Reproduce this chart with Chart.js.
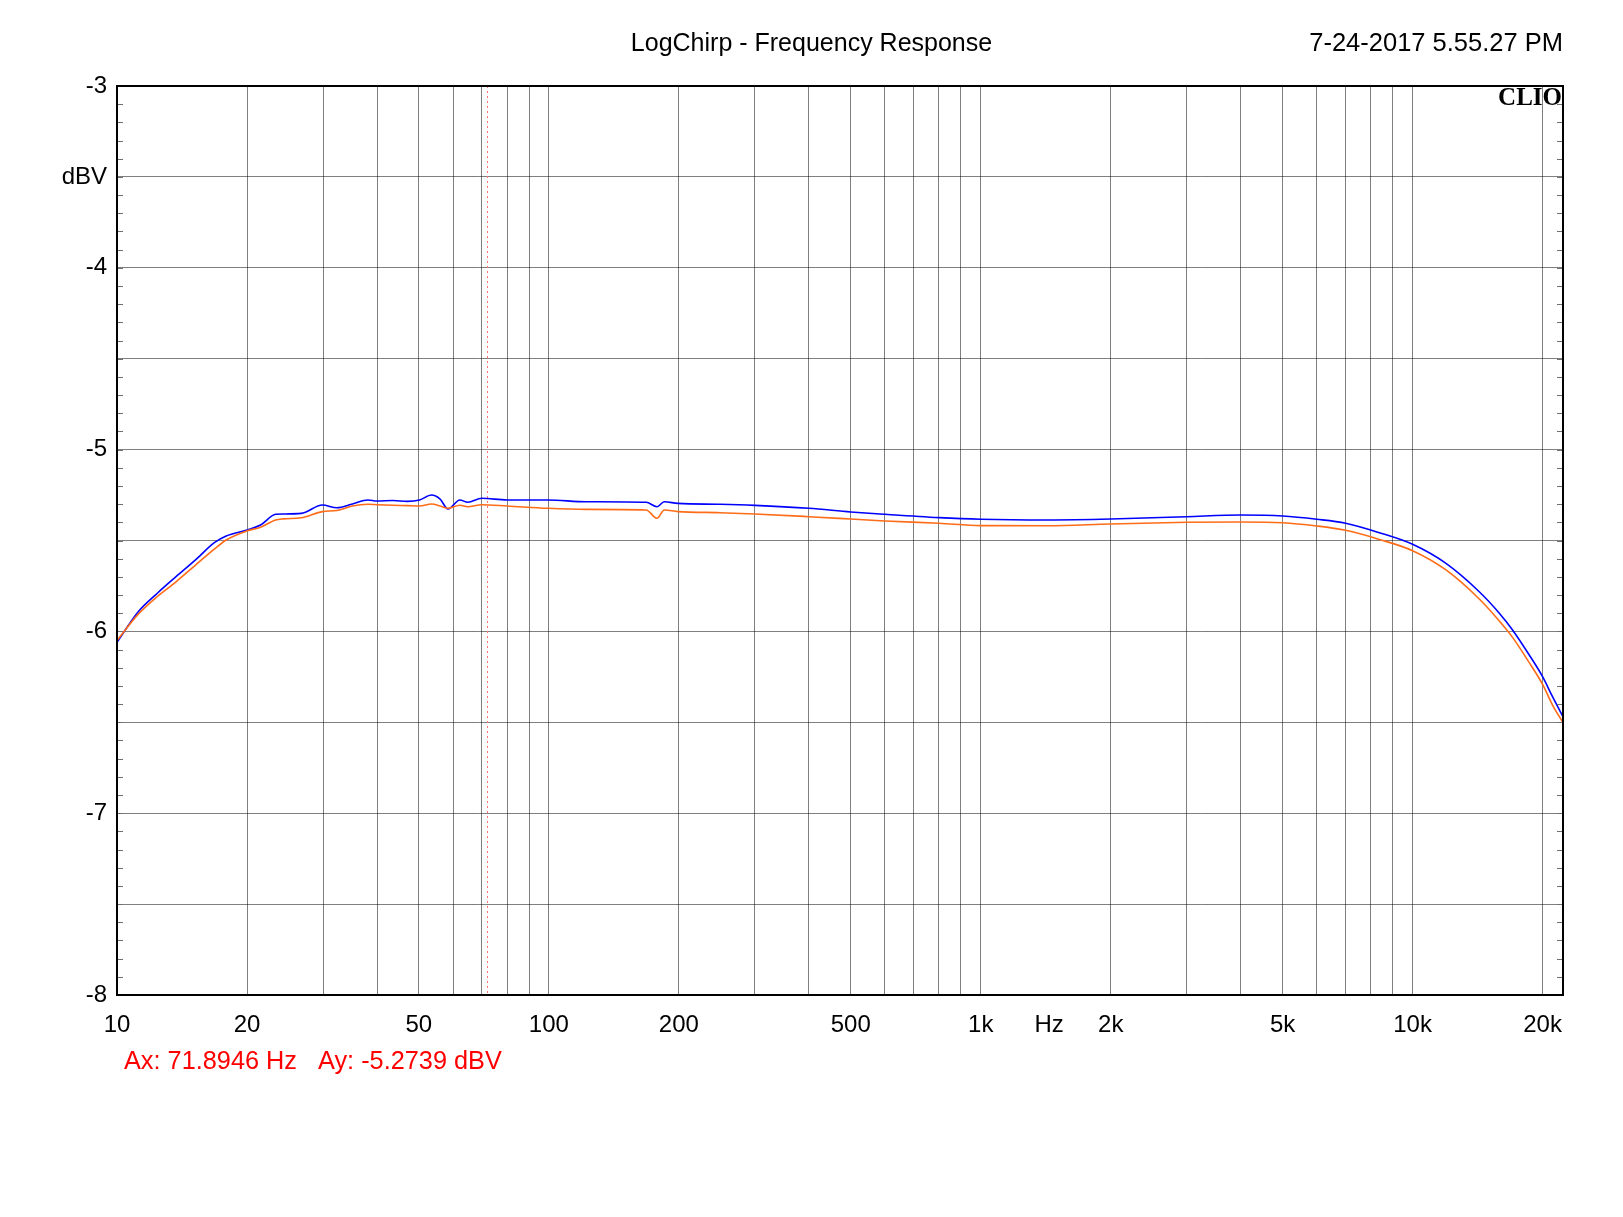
<!DOCTYPE html>
<html>
<head>
<meta charset="utf-8">
<title>LogChirp - Frequency Response</title>
<script src="https://cdn.jsdelivr.net/npm/chart.js@4.4.1/dist/chart.umd.min.js"></script>
<style>
  body { margin: 0; background: #ffffff; }
  #wrap { width: 1623px; height: 1217px; }
</style>
</head>
<body>
<div id="wrap"><canvas id="myChart" width="1623" height="1217"></canvas></div>
<script>
'use strict';

// frequencies in Hz
let freqs = [10, 11.2, 12.4, 13.7, 15.2, 16.8, 17.9, 20, 21.5, 23.3, 24.3, 26.7, 29.9, 32.3, 35.1, 38.1,
  40, 43.5, 47, 50.2, 53.5, 56, 58.4, 62.2, 64.9, 69.9, 80, 99.5, 122, 168, 178, 185, 199, 249,
  300, 400, 500, 600, 800, 1000, 1430, 2000, 3000, 4000, 5000, 6000, 7000, 8375,
  10000, 11950, 14270, 15880, 17040, 18630, 20000, 21090, 22300];

let blueDbv = [-6.06, -5.892, -5.79, -5.699, -5.607, -5.512, -5.475, -5.442, -5.415, -5.356, -5.354, -5.351, -5.305, -5.32, -5.299, -5.277,
  -5.283, -5.28, -5.285, -5.277, -5.25, -5.272, -5.327, -5.277, -5.29, -5.268, -5.277, -5.277, -5.287, -5.29, -5.314, -5.287, -5.296, -5.301,
  -5.307, -5.323, -5.343, -5.356, -5.374, -5.383, -5.387, -5.382, -5.369, -5.36, -5.365, -5.383, -5.405, -5.457,
  -5.521, -5.626, -5.782, -5.90, -5.992, -6.13, -6.249, -6.359, -6.469];

let orangeDbv = [-6.05, -5.905, -5.808, -5.727, -5.635, -5.548, -5.497, -5.447, -5.427, -5.387, -5.381, -5.375, -5.341, -5.335, -5.31, -5.301,
  -5.303, -5.306, -5.308, -5.31, -5.299, -5.31, -5.323, -5.306, -5.314, -5.303, -5.31, -5.323, -5.329, -5.332, -5.378, -5.332, -5.341, -5.347,
  -5.354, -5.369, -5.382, -5.393, -5.405, -5.418, -5.419, -5.409, -5.40, -5.398, -5.402, -5.42, -5.444, -5.494,
  -5.556, -5.662, -5.822, -5.943, -6.033, -6.172, -6.291, -6.405, -6.502];

// grid lines and labels
let xGrid = [10, 20, 30, 40, 50, 60, 70, 80, 90, 100, 200, 300, 400, 500, 600, 700, 800, 900,
  1000, 1440, 2000, 3000, 4000, 5000, 6000, 7000, 8000, 9000, 10000, 20000];
let xLabels = { 10: '10', 20: '20', 50: '50', 100: '100', 200: '200', 500: '500', 1000: '1k',
  1440: 'Hz', 2000: '2k', 5000: '5k', 10000: '10k', 20000: '20k' };
let yGrid = [-8, -7.5, -7, -6.5, -6, -5.5, -5, -4.5, -4, -3.5, -3];
let yLabels = { '-8': '-8', '-7': '-7', '-6': '-6', '-5': '-5', '-4': '-4', '-3': '-3', '-3.5': 'dBV' };

let cursorHz = 71.8946;
let cursorDbv = -5.2739;

let titleText = 'LogChirp - Frequency Response';
let dateText = '7-24-2017 5.55.27 PM';

const FONT = '"Liberation Sans", Arial, sans-serif';

function makePoints(ys) {
  let pts = [];
  for (let i = 0; i < freqs.length; i++) {
    pts.push({ x: freqs[i], y: ys[i] });
  }
  return pts;
}

// frame, minor ticks, cursor and the extra texts
let decorations = {
  id: 'decorations',
  beforeDatasetsDraw(chart) {
    let ctx = chart.ctx;
    let a = chart.chartArea;
    let xs = chart.scales.x;
    let cx = xs.getPixelForValue(cursorHz);
    ctx.save();
    ctx.strokeStyle = '#ff7070';
    ctx.lineWidth = 1;
    ctx.setLineDash([2, 3]);
    ctx.beginPath();
    ctx.moveTo(Math.round(cx) + 0.5, a.top);
    ctx.lineTo(Math.round(cx) + 0.5, a.bottom);
    ctx.stroke();
    ctx.restore();
  },
  afterDraw(chart) {
    let ctx = chart.ctx;
    let a = chart.chartArea;
    let ys = chart.scales.y;
    ctx.save();

    // minor ticks every 0.1 dB, inside on both sides
    ctx.strokeStyle = '#707070';
    ctx.lineWidth = 1;
    for (let i = 0; i <= 50; i++) {
      let y = Math.round(ys.getPixelForValue(-8 + i * 0.1)) + 0.5;
      ctx.beginPath();
      ctx.moveTo(a.left, y);
      ctx.lineTo(a.left + 6, y);
      ctx.moveTo(a.right - 6, y);
      ctx.lineTo(a.right, y);
      ctx.stroke();
    }

    // frame
    ctx.strokeStyle = '#000000';
    ctx.lineWidth = 2;
    ctx.strokeRect(a.left, a.top, a.right - a.left, a.bottom - a.top);

    // title and date
    ctx.fillStyle = '#000000';
    ctx.font = '25px ' + FONT;
    ctx.textBaseline = 'middle';
    ctx.textAlign = 'center';
    ctx.fillText(titleText, chart.width / 2, 44);
    ctx.font = '25.5px ' + FONT;
    ctx.textAlign = 'right';
    ctx.fillText(dateText, a.right, 44);

    // CLIO mark
    ctx.font = 'bold 25px "Liberation Serif", "Times New Roman", serif';
    ctx.textBaseline = 'top';
    ctx.fillText('CLIO', a.right - 1, a.top);

    // cursor readout
    ctx.fillStyle = '#ff0000';
    ctx.font = '25.3px ' + FONT;
    ctx.textAlign = 'left';
    ctx.textBaseline = 'middle';
    ctx.fillText('Ax: ' + cursorHz.toFixed(4) + ' Hz   Ay: ' + cursorDbv.toFixed(4) + ' dBV', 124, 1062);
    ctx.restore();
  }
};

let ctx = document.getElementById('myChart').getContext('2d');
let myChart = new Chart(ctx, {
  type: 'line',
  data: {
    datasets: [{
      label: 'Ch B',
      data: makePoints(orangeDbv),
      borderColor: '#ff6c18',
      borderWidth: 1.6,
      pointRadius: 0,
      cubicInterpolationMode: 'monotone',
      fill: false
    }, {
      label: 'Ch A',
      data: makePoints(blueDbv),
      borderColor: '#0000ff',
      borderWidth: 1.6,
      pointRadius: 0,
      cubicInterpolationMode: 'monotone',
      fill: false
    }]
  },
  options: {
    responsive: false,
    animation: false,
    layout: { padding: { left: 0, top: 86, right: 60, bottom: 162 } },
    plugins: {
      legend: { display: false },
      title: { display: false },
      tooltip: { enabled: false }
    },
    scales: {
      x: {
        type: 'logarithmic',
        min: 10,
        max: 22300,
        afterBuildTicks: function (scale) {
          scale.ticks = xGrid.map(function (v) { return { value: v }; });
        },
        afterFit: function (scale) { scale.height = 60; },
        border: { display: false },
        grid: {
          drawTicks: false,
          lineWidth: 1,
          color: function (c) {
            if (c.tick && c.tick.value === 1440) { return 'rgba(0,0,0,0)'; }
            return 'rgba(0,0,0,0.5)';
          }
        },
        ticks: {
          autoSkip: false,
          maxRotation: 0,
          padding: 16,
          color: '#000000',
          font: { family: FONT, size: 24 },
          callback: function (v) { return xLabels[v] || ''; }
        }
      },
      y: {
        type: 'linear',
        min: -8,
        max: -3,
        afterBuildTicks: function (scale) {
          scale.ticks = yGrid.map(function (v) { return { value: v }; });
        },
        afterFit: function (scale) { scale.width = 117; },
        border: { display: false },
        grid: {
          drawTicks: false,
          lineWidth: 1,
          color: 'rgba(0,0,0,0.5)'
        },
        ticks: {
          padding: 10,
          color: '#000000',
          font: { family: FONT, size: 24 },
          callback: function (v) { return yLabels[String(v)] || ''; }
        }
      }
    }
  },
  plugins: [decorations]
});
</script>
</body>
</html>
